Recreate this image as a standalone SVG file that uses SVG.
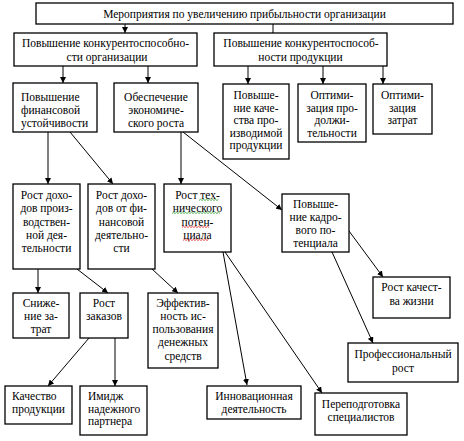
<svg xmlns="http://www.w3.org/2000/svg" width="464" height="441" viewBox="0 0 464 441">
<style>
rect.b{fill:#fff;stroke:#000;stroke-width:1.3}
text{font-family:'Liberation Serif','Times New Roman','DejaVu Serif',serif;font-size:11.5px;fill:#000}
.c{text-anchor:middle}
.l{stroke:#000;stroke-width:1;fill:none}
.a{marker-end:url(#ar)}
.sg{fill:none;stroke:#2a9a2a;stroke-width:0.8}
.sr{fill:none;stroke:#e02020;stroke-width:0.8}
</style>
<defs>
<marker id="ar" viewBox="0 0 10 10" refX="10" refY="5" markerWidth="6" markerHeight="6" markerUnits="userSpaceOnUse" orient="auto">
<path d="M0,0 L10,5 L0,10 z" fill="#000"/>
</marker>
</defs>
<rect width="464" height="441" fill="#fff"/>
<g id="connectors">
<line class="l a" x1="125" y1="24" x2="125" y2="33"/>
<line class="l" x1="273" y1="24" x2="273" y2="33"/>
<line class="l a" x1="63" y1="66" x2="63" y2="83"/>
<line class="l a" x1="148" y1="66" x2="148" y2="83"/>
<line class="l a" x1="248" y1="66" x2="248" y2="84"/>
<line class="l a" x1="323" y1="66" x2="323" y2="84"/>
<line class="l a" x1="383" y1="66" x2="383" y2="84"/>
<line class="l a" x1="48" y1="132" x2="48" y2="184"/>
<line class="l a" x1="70" y1="132" x2="113" y2="184"/>
<line class="l a" x1="181" y1="132" x2="181" y2="184"/>
<line class="l a" x1="183" y1="132" x2="282" y2="210"/>
<line class="l a" x1="349" y1="231" x2="383" y2="277"/>
<line class="l a" x1="332" y1="252" x2="373" y2="343"/>
<line class="l a" x1="223" y1="252" x2="247" y2="385"/>
<line class="l a" x1="225" y1="252" x2="322" y2="393"/>
<line class="l a" x1="38" y1="269" x2="38" y2="293"/>
<line class="l a" x1="77" y1="269" x2="108" y2="293"/>
<line class="l a" x1="152" y1="269" x2="178" y2="293"/>
<line class="l a" x1="89" y1="338" x2="48" y2="386"/>
<line class="l a" x1="115" y1="338" x2="115" y2="386"/>
</g>
<g font-family="Liberation Serif, Times New Roman, DejaVu Serif, serif" font-size="11.5">
<g id="n-top"><rect class="b" x="36" y="3" width="417" height="21"/><text class="c" x="244.5" y="18">Мероприятия по увеличению прибыльности организации</text></g>
<g id="n-org"><rect class="b" x="14" y="33" width="183" height="33"/><text class="c" x="105.5" y="47">Повышение конкурентоспособно-</text><text class="c" x="107" y="61">сти организации</text></g>
<g id="n-prod"><rect class="b" x="214" y="33" width="173" height="33"/><text class="c" x="301" y="47">Повышение конкурентоспособ-</text><text class="c" x="300.5" y="61">ности продукции</text></g>
<g id="n-fin"><rect class="b" x="13" y="83" width="84" height="49"/><text x="21" y="101">Повышение</text><text x="21" y="114">финансовой</text><text x="21" y="127">устойчивости</text></g>
<g id="n-econ"><rect class="b" x="114" y="83" width="84" height="49"/><text class="c" x="156" y="101">Обеспечение</text><text class="c" x="156" y="114">экономиче-</text><text class="c" x="156" y="127">ского роста</text></g>
<g id="n-qual"><rect class="b" x="223" y="84" width="66" height="75"/><text class="c" x="256" y="99">Повыше-</text><text class="c" x="256" y="112">ние каче-</text><text class="c" x="256" y="124">ства про-</text><text class="c" x="256" y="137">изводимой</text><text class="c" x="256" y="149">продукции</text></g>
<g id="n-dur"><rect class="b" x="298" y="84" width="68" height="58"/><text class="c" x="332" y="99">Оптими-</text><text class="c" x="332" y="112">зация про-</text><text class="c" x="332" y="124">должи-</text><text class="c" x="332" y="137">тельности</text></g>
<g id="n-cost"><rect class="b" x="373" y="84" width="59" height="50"/><text class="c" x="402.5" y="99">Оптими-</text><text class="c" x="402.5" y="112">зация</text><text class="c" x="402.5" y="124">затрат</text></g>
<g id="n-proddoh"><rect class="b" x="13" y="184" width="67" height="85"/><text class="c" x="46.5" y="199">Рост дохо-</text><text class="c" x="46.5" y="212">дов произ-</text><text class="c" x="46.5" y="226">водствен-</text><text class="c" x="46.5" y="239">ной дея-</text><text class="c" x="46.5" y="252">тельности</text></g>
<g id="n-findoh"><rect class="b" x="88" y="184" width="67" height="85"/><text class="c" x="121.5" y="199">Рост дохо-</text><text class="c" x="121.5" y="212">дов от фи-</text><text class="c" x="121.5" y="226">нансовой</text><text class="c" x="121.5" y="239">деятельно-</text><text class="c" x="121.5" y="252">сти</text></g>
<g id="n-tech"><rect class="b" x="164" y="184" width="67" height="68"/><text class="c" x="197.5" y="199">Рост тех-</text><text class="c" x="197.5" y="212">нического</text><text class="c" x="197.5" y="226">потен-</text><text class="c" x="197.5" y="239">циала</text>
<path class="sg" d="M199,200.5 l1.5,-1.2 l1.5,1.2 l1.5,-1.2 l1.5,1.2 l1.5,-1.2 l1.5,1.2 l1.5,-1.2 l1.5,1.2 l1.5,-1.2 l1.5,1.2 l1.5,-1.2 l1.5,1.2 l1.5,-1.2"/>
<path class="sg" d="M172,213.5 l1.5,-1.2 l1.5,1.2 l1.5,-1.2 l1.5,1.2 l1.5,-1.2 l1.5,1.2 l1.5,-1.2 l1.5,1.2 l1.5,-1.2 l1.5,1.2 l1.5,-1.2 l1.5,1.2 l1.5,-1.2 l1.5,1.2 l1.5,-1.2 l1.5,1.2 l1.5,-1.2 l1.5,1.2 l1.5,-1.2 l1.5,1.2 l1.5,-1.2 l1.5,1.2 l1.5,-1.2 l1.5,1.2 l1.5,-1.2 l1.5,1.2 l1.5,-1.2 l1.5,1.2 l1.5,-1.2 l1.5,1.2 l1.5,-1.2 l1.5,1.2"/>
<path class="sr" d="M182,227.5 l1.5,-1.2 l1.5,1.2 l1.5,-1.2 l1.5,1.2 l1.5,-1.2 l1.5,1.2 l1.5,-1.2 l1.5,1.2 l1.5,-1.2 l1.5,1.2 l1.5,-1.2 l1.5,1.2 l1.5,-1.2 l1.5,1.2 l1.5,-1.2 l1.5,1.2 l1.5,-1.2 l1.5,1.2"/>
<path class="sr" d="M183,240.5 l1.5,-1.2 l1.5,1.2 l1.5,-1.2 l1.5,1.2 l1.5,-1.2 l1.5,1.2 l1.5,-1.2 l1.5,1.2 l1.5,-1.2 l1.5,1.2 l1.5,-1.2 l1.5,1.2 l1.5,-1.2 l1.5,1.2 l1.5,-1.2 l1.5,1.2 l1.5,-1.2"/>
</g>
<g id="n-kadr"><rect class="b" x="282" y="194" width="67" height="58"/><text class="c" x="315.5" y="208">Повыше-</text><text class="c" x="315.5" y="221">ние кадро-</text><text class="c" x="315.5" y="234">вого по-</text><text class="c" x="315.5" y="247">тенциала</text></g>
<g id="n-life"><rect class="b" x="373" y="277" width="77" height="41"/><text class="c" x="411.5" y="291">Рост качест-</text><text class="c" x="411.5" y="305">ва жизни</text></g>
<g id="n-prof"><rect class="b" x="348" y="343" width="110" height="39"/><text class="c" x="403" y="358">Профессиональный</text><text class="c" x="403" y="372">рост</text></g>
<g id="n-innov"><rect class="b" x="207" y="386" width="94" height="33"/><text class="c" x="254" y="400">Инновационная</text><text class="c" x="254" y="413">деятельность</text></g>
<g id="n-retr"><rect class="b" x="315" y="393" width="92" height="42"/><text class="c" x="361" y="408">Переподготовка</text><text class="c" x="361" y="421">специалистов</text></g>
<g id="n-snizh"><rect class="b" x="13" y="293" width="56" height="45"/><text class="c" x="41" y="307">Сниже-</text><text class="c" x="41" y="320">ние за-</text><text class="c" x="41" y="333">трат</text></g>
<g id="n-zak"><rect class="b" x="80" y="293" width="48" height="45"/><text class="c" x="104" y="307">Рост</text><text class="c" x="104" y="320">заказов</text></g>
<g id="n-eff"><rect class="b" x="148" y="293" width="70" height="75"/><text class="c" x="183" y="307">Эффектив-</text><text class="c" x="183" y="320">ность ис-</text><text class="c" x="183" y="333">пользования</text><text class="c" x="183" y="346">денежных</text><text class="c" x="183" y="360">средств</text></g>
<g id="n-kach"><rect class="b" x="5" y="386" width="67" height="38"/><text x="12" y="400">Качество</text><text x="12" y="413">продукции</text></g>
<g id="n-img"><rect class="b" x="80" y="386" width="67" height="49"/><text x="88" y="400">Имидж</text><text x="88" y="413">надежного</text><text x="88" y="425">партнера</text></g>
</g>
</svg>
